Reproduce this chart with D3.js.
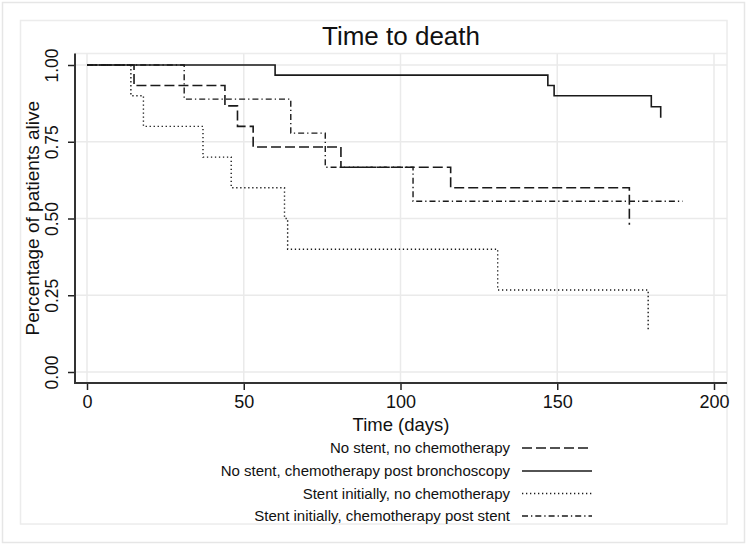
<!DOCTYPE html>
<html lang="en">
<head>
<meta charset="utf-8">
<title>Time to death</title>
<script src="https://d3js.org/d3.v7.min.js"></script>
<style>
  body { margin: 0; background: white; }
  text { font-family: "Liberation Sans", Arial, sans-serif; fill: #111; }
</style>
</head>
<body>
<div id="chart"></div>
<script>

// axis ticks
var timeTicks = [0, 50, 100, 150, 200]
var survTicks = [0, 0.25, 0.5, 0.75, 1]

// group names (legend order)
var groupNames = [
  "No stent, no chemotherapy",
  "No stent, chemotherapy post bronchoscopy",
  "Stent initially, no chemotherapy",
  "Stent initially, chemotherapy post stent"
]

// Kaplan-Meier steps: event times (days) and survival after each
var noStentNoChemoTimes = [0, 15, 44, 48, 53, 81, 116, 173]
var noStentNoChemoSurv  = [1, 0.933, 0.867, 0.8, 0.733, 0.667, 0.6, 0.48]

var noStentChemoTimes = [0, 60, 147, 149, 180, 183]
var noStentChemoSurv  = [1, 0.967, 0.933, 0.9, 0.864, 0.828]

var stentNoChemoTimes = [0, 14, 18, 37, 46, 63, 64, 131, 179]
var stentNoChemoSurv  = [1, 0.9, 0.8, 0.7, 0.6, 0.5, 0.4, 0.267, 0.133]

var stentChemoTimes = [0, 31, 65, 76, 104]
var stentChemoSurv  = [1, 0.889, 0.778, 0.667, 0.556]

// last follow-up time of each group
var lastTimes = [173, 183, 179, 190]

var width = 747
var height = 545

var svg = d3.select("#chart")
  .append("svg")
    .attr("width", width)
    .attr("height", height)

// outer frames
svg.append("rect")
  .attr("x", 2.5).attr("y", 2.5)
  .attr("width", 742).attr("height", 540)
  .attr("fill", "none").attr("stroke", "#e6e6e6").attr("stroke-width", 1.5)
svg.append("rect")
  .attr("x", 20.5).attr("y", 20.5)
  .attr("width", 706.5).attr("height", 503.5)
  .attr("fill", "none").attr("stroke", "#ececec").attr("stroke-width", 1.5)

// plot region (avoid the name "top", it is window.top)
var plotL = 75, plotR = 727, plotT = 53.5, plotB = 383

svg.append("line")
  .attr("x1", plotL).attr("x2", plotR)
  .attr("y1", plotT).attr("y2", plotT)
  .attr("stroke", "#ececec").attr("stroke-width", 1.5)

var x = d3.scaleLinear()
  .domain([0, 200])
  .range([87, 714])

var y = d3.scaleLinear()
  .domain([0, 1])
  .range([372, 65])

// grid lines
svg.append("g")
  .selectAll("line")
  .data(survTicks)
  .enter()
  .append("line")
    .attr("x1", plotL).attr("x2", plotR)
    .attr("y1", function(d){ return y(d) })
    .attr("y2", function(d){ return y(d) })
    .attr("stroke", "#eaeaea").attr("stroke-width", 1.5)

svg.append("g")
  .selectAll("line")
  .data(timeTicks)
  .enter()
  .append("line")
    .attr("x1", function(d){ return x(d) })
    .attr("x2", function(d){ return x(d) })
    .attr("y1", plotT).attr("y2", plotB)
    .attr("stroke", "#eaeaea").attr("stroke-width", 1.5)

// axes
var xAxis = svg.append("g")
  .attr("transform", "translate(0," + plotB + ")")
  .call(d3.axisBottom(x).tickValues(timeTicks).tickSize(7).tickPadding(5))
xAxis.select(".domain").remove()
xAxis.selectAll("line").attr("stroke", "#222").attr("stroke-width", 1.5)
xAxis.selectAll("text")
  .style("font-size", "18px")
  .style("font-family", "'Liberation Sans', Arial, sans-serif")
  .attr("fill", "#111")

svg.append("line")
  .attr("x1", plotL - 1).attr("x2", plotR)
  .attr("y1", plotB).attr("y2", plotB)
  .attr("stroke", "#333").attr("stroke-width", 2)

var yAxis = svg.append("g")
  .attr("transform", "translate(" + plotL + ",0)")
  .call(d3.axisLeft(y).tickValues(survTicks).tickSize(7).tickFormat(d3.format(".2f")))
yAxis.select(".domain").remove()
yAxis.selectAll("line").attr("stroke", "#222").attr("stroke-width", 1.5)
yAxis.selectAll("text")
  .attr("x", null).attr("dy", null)
  .attr("text-anchor", "middle")
  .attr("transform", "translate(-17,0) rotate(-90)")
  .style("font-size", "17.5px")
  .style("font-family", "'Liberation Sans', Arial, sans-serif")
  .attr("fill", "#111")

svg.append("line")
  .attr("x1", plotL).attr("x2", plotL)
  .attr("y1", plotT).attr("y2", plotB + 1)
  .attr("stroke", "#333").attr("stroke-width", 2)

// titles
svg.append("text")
  .attr("x", (plotL + plotR) / 2).attr("y", 45)
  .attr("text-anchor", "middle")
  .style("font-size", "26px")
  .text("Time to death")

svg.append("text")
  .attr("x", (plotL + plotR) / 2).attr("y", 431)
  .attr("text-anchor", "middle")
  .style("font-size", "18.5px")
  .text("Time (days)")

svg.append("text")
  .attr("transform", "translate(39," + ((plotT + plotB) / 2) + ") rotate(-90)")
  .attr("text-anchor", "middle")
  .style("font-size", "19px")
  .text("Percentage of patients alive")

// survival curves
var groups = [
  { name: groupNames[0], times: noStentNoChemoTimes, surv: noStentNoChemoSurv, end: lastTimes[0], dash: "10,4", width: 1.6 },
  { name: groupNames[1], times: noStentChemoTimes, surv: noStentChemoSurv, end: lastTimes[1], dash: null, width: 1.6 },
  { name: groupNames[2], times: stentNoChemoTimes, surv: stentNoChemoSurv, end: lastTimes[2], dash: "1.3,2.7", width: 1.4 },
  { name: groupNames[3], times: stentChemoTimes, surv: stentChemoSurv, end: lastTimes[3], dash: "6,3,1.3,3", width: 1.4 }
]

var line = d3.line()
  .x(function(d){ return x(d[0]) })
  .y(function(d){ return y(d[1]) })
  .curve(d3.curveStepAfter)

groups.forEach(function(g) {
  var pts = g.times.map(function(t, i){ return [t, g.surv[i]] })
  pts.push([g.end, g.surv[g.surv.length - 1]])
  svg.append("path")
    .attr("d", line(pts))
    .attr("fill", "none")
    .attr("stroke", "#1a1a1a")
    .attr("stroke-width", g.width)
    .attr("stroke-dasharray", g.dash)
})

// legend
var legendY = [448, 471, 493.5, 516]
var legend = svg.append("g")
  .selectAll("g")
  .data(groups)
  .enter()
  .append("g")
    .attr("transform", function(d, i){ return "translate(0," + legendY[i] + ")" })

legend.append("text")
  .attr("x", 510)
  .attr("text-anchor", "end")
  .attr("dy", "0.35em")
  .style("font-size", "15px")
  .text(function(d){ return d.name })

legend.append("line")
  .attr("x1", 522).attr("x2", 592)
  .attr("stroke", "#1a1a1a")
  .attr("stroke-width", function(d){ return d.width })
  .attr("stroke-dasharray", function(d){ return d.dash })

</script>
</body>
</html>
